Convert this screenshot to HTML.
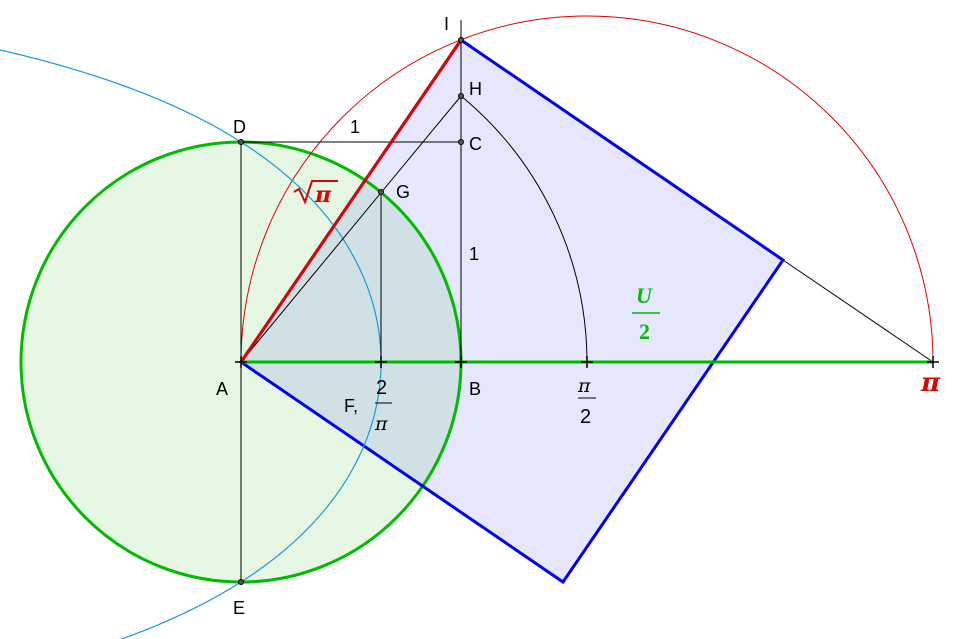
<!DOCTYPE html>
<html><head><meta charset="utf-8"><style>
html,body{margin:0;padding:0;background:#fff;}
svg{display:block;font-family:"Liberation Sans",sans-serif;}
</style></head><body>
<svg id="s" width="960" height="639" viewBox="0 0 960 639" xmlns="http://www.w3.org/2000/svg">
<circle cx="241" cy="362" r="220" fill="#e6f8e4" stroke="none"/>
<polygon points="241,362 461,40 783,260 563,582" fill="rgba(60,60,230,0.13)" stroke="none"/>
<circle cx="241" cy="362" r="220" fill="none" stroke="#00bb00" stroke-width="3"/>
<polygon points="241,362 461,40 783,260 563,582" fill="none" stroke="#0000ee" stroke-width="3"/>
<path d="M241,362 A346,346 0 0 1 933,362" fill="none" stroke="#e00000" stroke-width="1"/>
<path id="q" d="" fill="none" stroke="#1a9ad6" stroke-width="1.2"/>
<g stroke="#000" stroke-width="1" fill="none">
<line x1="241" y1="142" x2="241" y2="582"/>
<line x1="241" y1="142" x2="461" y2="142"/>
<line x1="461" y1="20" x2="461" y2="362"/>
<line x1="241" y1="362" x2="461" y2="96"/>
<line x1="381" y1="192" x2="381" y2="362"/>
<line x1="783" y1="260" x2="933" y2="362"/>
<path d="M461,96 A345.6,345.6 0 0 1 587,362"/>
</g>
<line x1="241" y1="362" x2="933" y2="362" stroke="#00bb00" stroke-width="3"/>
<line x1="241" y1="362" x2="461" y2="40" stroke="#e00000" stroke-width="3"/>
<g stroke="#000" stroke-width="1.5">
<path d="M235,362h12M241,356v12"/>
<path d="M375,362h12M381,356v12"/>
<path d="M455,362h12M461,356v12"/>
<path d="M581,362h12M587,356v12"/>
<path d="M927,362h12M933,356v12"/>
</g>
<g fill="#555" stroke="#000" stroke-width="1">
<circle cx="241" cy="142" r="2.5"/><circle cx="461" cy="142" r="2.5"/>
<circle cx="461" cy="96" r="2.5"/><circle cx="461" cy="40" r="2.5"/>
<circle cx="381" cy="192" r="2.5"/><circle cx="241" cy="582" r="2.5"/>
</g>
<g font-size="18" fill="#000">
<text x="444" y="30">I</text>
<text x="469" y="95">H</text>
<text x="469" y="150">C</text>
<text x="233" y="133">D</text>
<text x="396" y="198">G</text>
<text x="350" y="133">1</text>
<text x="469" y="260">1</text>
<text x="216" y="395">A</text>
<text x="469" y="395">B</text>
<text x="233" y="614">E</text>
<text x="344" y="412">F,</text>
<text x="376" y="394" font-size="20">2</text>
<line x1="375" y1="403" x2="392" y2="403" stroke="#000"/>
<text x="375" y="430" font-family="DejaVu Serif,serif" font-style="italic" font-size="19">π</text>
<text x="578" y="392" font-family="DejaVu Serif,serif" font-style="italic" font-size="19">π</text>
<line x1="578" y1="398" x2="596" y2="398" stroke="#000"/>
<text x="580" y="423" font-size="20">2</text>
</g>
<text x="921" y="391" font-size="26" font-weight="bold" font-style="italic" fill="#e00000" font-family="DejaVu Serif,serif">π</text>
<g fill="#e00000" font-family="DejaVu Serif,serif" font-weight="bold" font-style="italic">
<path d="M294,192 l5,-3 l6,13 l7,-21 h26" fill="none" stroke="#e00000" stroke-width="2"/>
<text x="315" y="202" font-size="22">π</text>
</g>
<g fill="#00bb00" font-family="Liberation Serif,serif" font-weight="bold" font-style="italic">
<text x="636" y="303" font-size="22">U</text>
<line x1="632" y1="313" x2="660" y2="313" stroke="#00bb00" stroke-width="1.5"/>
<text x="639" y="339" font-size="22" font-style="normal">2</text>
</g>
</svg>
<script>
var d="",first=true;
for(var y=1.45;y>=-1.3;y-=0.01){
 var yy=Math.abs(y)<1e-6?1e-6:y;
 var x=yy/Math.tan(Math.PI*yy/2);
 var px=241+220*x, py=362-220*yy;
 d+=(first?"M":"L")+px.toFixed(1)+","+py.toFixed(1);first=false;
}
document.getElementById("q").setAttribute("d",d);
</script>
</body></html>
